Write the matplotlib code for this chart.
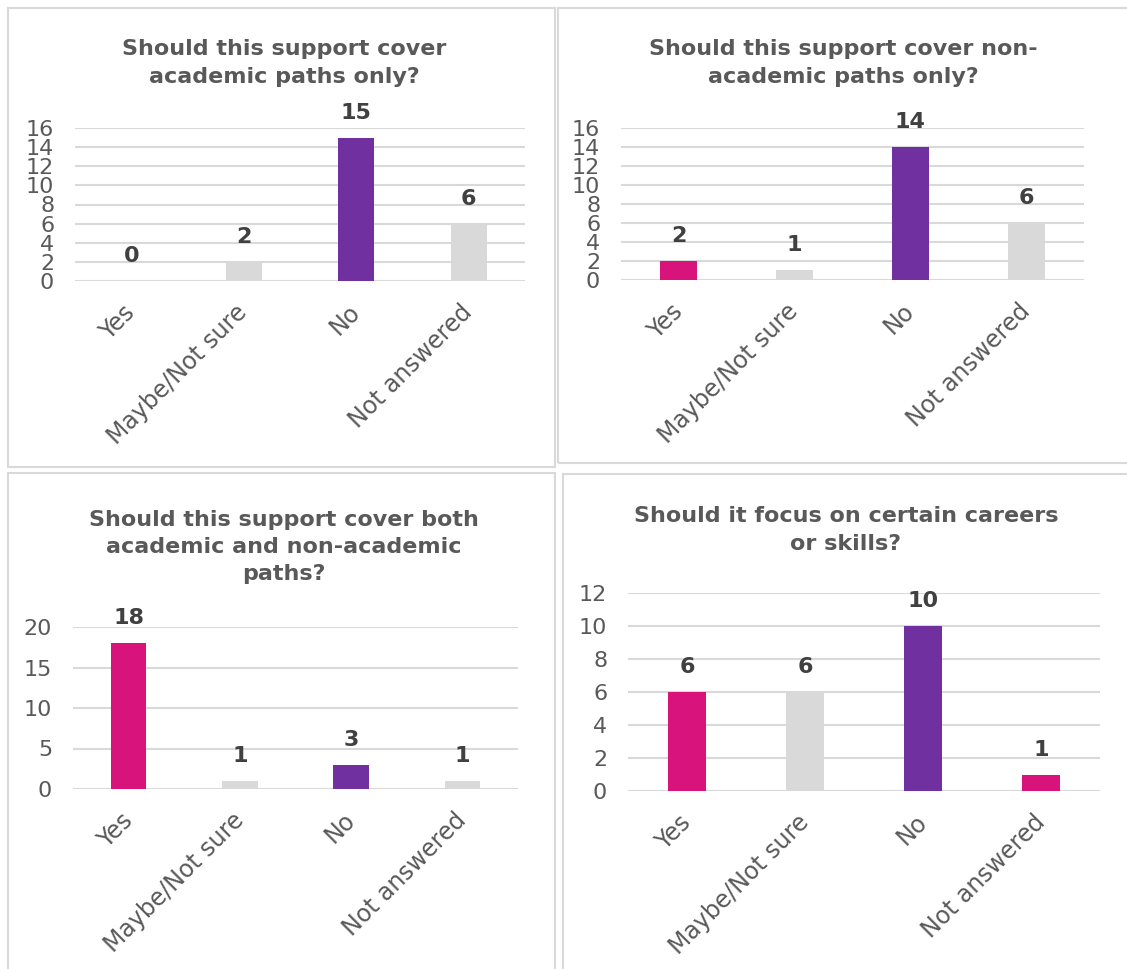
import matplotlib.pyplot as plt
from matplotlib.patches import Rectangle

categories = ['Yes', 'Maybe/Not sure', 'No', 'Not answered']

academic_only = [0, 2, 15, 6]
non_academic_only = [2, 1, 14, 6]
both_paths = [18, 1, 3, 1]
certain_careers = [6, 6, 10, 1]

PINK = '#D8137B'
PURPLE = '#7030A0'
GREY = '#D9D9D9'
TEXT = '#595959'
LABEL = '#404040'

W, H = 1127, 969
fig = plt.figure(figsize=(W / 100, H / 100), dpi=100)


def px_rect(x0, y0, x1, y1):
    # pixel box (top-left origin) -> figure fraction [left, bottom, width, height]
    return [x0 / W, 1 - y1 / H, (x1 - x0) / W, (y1 - y0) / H]


# light frames around each chart
for x0, y0, x1, y1 in [(8, 8, 555, 467), (558, 8, 1140, 463),
                       (8, 473, 555, 990), (563, 474, 1140, 990)]:
    fig.patches.append(Rectangle((x0 / W, 1 - y1 / H), (x1 - x0) / W, (y1 - y0) / H,
                                 transform=fig.transFigure, fill=False,
                                 edgecolor='#D9D9D9', linewidth=1.5))

panels = [
    dict(values=academic_only, colors=[PINK, GREY, PURPLE, GREY],
         title='Should this support cover\nacademic paths only?', tx=284, ty=63,
         box=(75, 128, 525, 281), ymax=16, step=2),
    dict(values=non_academic_only, colors=[PINK, GREY, PURPLE, GREY],
         title='Should this support cover non-\nacademic paths only?', tx=843, ty=63,
         box=(621, 128, 1084, 280), ymax=16, step=2),
    dict(values=both_paths, colors=[PINK, GREY, PURPLE, GREY],
         title='Should this support cover both\nacademic and non-academic\npaths?', tx=284, ty=547,
         box=(73, 627, 518, 789), ymax=20, step=5),
    dict(values=certain_careers, colors=[PINK, GREY, PURPLE, PINK],
         title='Should it focus on certain careers\nor skills?', tx=846, ty=530,
         box=(628, 593, 1100, 791), ymax=12, step=2),
]

for p in panels:
    ax = fig.add_axes(px_rect(*p['box']))
    x = range(len(categories))
    bars = ax.bar(x, p['values'], width=0.32, color=p['colors'], zorder=3)
    for b, v in zip(bars, p['values']):
        ax.annotate(str(v), (b.get_x() + b.get_width() / 2, v), xytext=(0, 18),
                    textcoords='offset points', ha='center', va='center',
                    fontsize=16, fontweight='bold', color=LABEL)
    ax.set_xlim(-0.5, 3.5)
    ax.set_ylim(0, p['ymax'])
    ax.set_yticks(range(0, p['ymax'] + 1, p['step']))
    ax.yaxis.grid(True, color=GREY, linewidth=1.5, zorder=0)
    ax.set_axisbelow(True)
    for s in ax.spines.values():
        s.set_visible(False)
    ax.tick_params(length=0, colors=TEXT, labelsize=16)
    ax.tick_params(axis='y', pad=15)
    ax.set_xticks(list(x))
    ax.set_xticklabels(categories, rotation=45, ha='right', va='center',
                       rotation_mode='anchor', fontsize=17, color=TEXT)
    ax.tick_params(axis='x', pad=20)
    fig.text(p['tx'] / W, 1 - p['ty'] / H, p['title'], ha='center', va='center',
             fontsize=16, fontweight='bold', color=TEXT, linespacing=1.45)

fig.savefig('out.png', dpi=100, facecolor='white')
